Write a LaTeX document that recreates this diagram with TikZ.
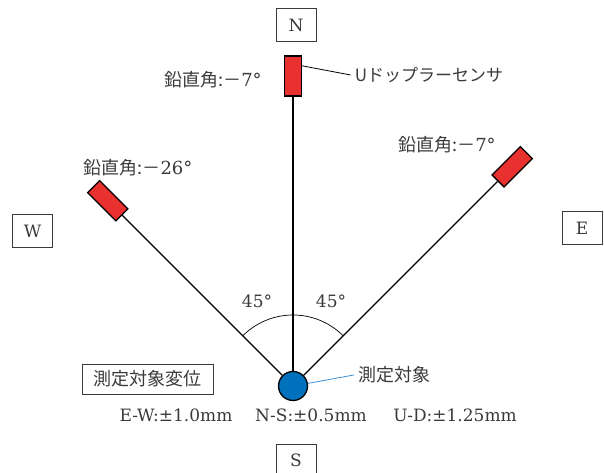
\documentclass[tikz,border=0pt]{standalone}
\usepackage{fontspec}
\setmainfont{DejaVu Serif}
\newfontfamily\jp{Noto Sans CJK JP}
\usepackage{tikz}
\usetikzlibrary{positioning, calc}
\definecolor{sensorred}{HTML}{E8302F}
\definecolor{targetblue}{HTML}{0071BC}
\definecolor{leadblue}{HTML}{3D8FD1}
\definecolor{textgray}{HTML}{3A3A3A}

\begin{document}
\begin{tikzpicture}[x=1pt, y=1pt,
    dirbox/.style={rectangle, draw=textgray, line width=0.8pt, minimum width=40pt, minimum height=33pt, inner sep=0pt, font=\fontsize{17}{17}\selectfont, text=textgray},
    sensor/.style={rectangle, draw=black, fill=sensorred, line width=1.3pt, minimum width=17pt, minimum height=40pt, inner sep=0pt, rotate=#1},
    jptxt/.style={font=\fontsize{18}{18}\selectfont\jp, text=textgray, inner sep=2pt},
    num/.style={font=\fontsize{17}{17}\selectfont, text=textgray, inner sep=1pt},
    leg/.style={line width=1.1pt},
  ]
  \useasboundingbox (0,0) rectangle (604,473);

  % target and sensors
  \node[circle, draw=black, fill=targetblue, line width=1.3pt, minimum size=29pt, inner sep=0pt] (target) at (293,87) {};
  \node[sensor=0] (sn) at ($(target)+(90:310)$) {};
  \node[sensor=45] (sw) at ($(target)+(135:262)$) {};
  \node[sensor=-45] (se) at ($(target)+(45:310)$) {};

  \draw[leg] (target) -- (sn);
  \draw[leg] (target) -- (sw);
  \draw[leg] (target) -- (se);

  % direction boxes
  \node[dirbox] (north) at (296,448) {N};
  \node[dirbox] (west) at (32.5,242) {W};
  \node[dirbox] (east) at (582,245) {E};
  \node[dirbox] (south) at (296,12.5) {S};

  % vertical angles
  \node[jptxt] (angN) at (213,393) {鉛直角:－{\rmfamily 7°}};
  \node[jptxt] (angW) at (138,305) {鉛直角:－{\rmfamily 26°}};
  \node[jptxt] (angE) at (447,328) {鉛直角:－{\rmfamily 7°}};

  \node[jptxt, font=\fontsize{17}{17}\selectfont\jp, inner sep=4pt] (dop) at (429,398) {Uドップラーセンサ};
  \draw[line width=0.8pt] (sn.48) -- (dop.west);

  % 45 degree arcs
  \draw[line width=0.7pt] (target.center) ++(135:71) arc[start angle=135, end angle=90, radius=71];
  \draw[line width=0.7pt] (target.center) ++(90:71) arc[start angle=90, end angle=45, radius=71];
  \node[num] (a1) at (257,172) {45°};
  \node[num] (a2) at (331,172) {45°};

  \node[jptxt, inner sep=4pt] (tlab) at (394,98) {測定対象};
  \draw[leadblue, line width=0.8pt] (target.10) -- (tlab.west);

  % displacement
  \node[dirbox, font=\fontsize{18}{18}\selectfont\jp, minimum width=131pt, minimum height=30pt] (disp) at (147.5,94) {測定対象変位};
  \node[num] (dew) at (176,58) {E-W:±1.0mm};
  \node[num] (dns) at (311,58) {N-S:±0.5mm};
  \node[num] (dud) at (455,58) {U-D:±1.25mm};
\end{tikzpicture}
\end{document}
